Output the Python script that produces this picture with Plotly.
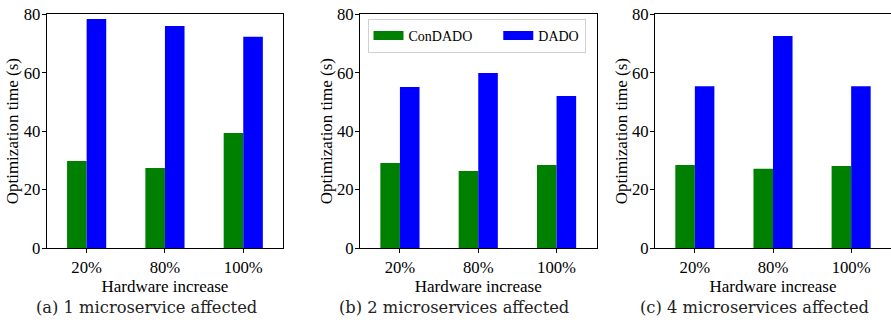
import plotly.graph_objects as go

categories = ["20%", "80%", "100%"]
series_names = ["ConDADO", "DADO"]
colors = ["#008000", "#0000ff"]

condado_a = [29.8, 27.4, 39.4]
dado_a = [78.4, 76.0, 72.3]
condado_b = [29.1, 26.4, 28.4]
dado_b = [55.1, 59.9, 52.0]
condado_c = [28.4, 27.1, 28.1]
dado_c = [55.4, 72.6, 55.4]

captions = ["(a) 1 microservice affected",
            "(b) 2 microservices affected",
            "(c) 4 microservices affected"]
y_ticks = [0, 20, 40, 60, 80]
x_title = "Hardware increase"
y_title = "Optimization time (s)"

panels = [(condado_a, dado_a), (condado_b, dado_b), (condado_c, dado_c)]

W, H = 891, 320
FONT = "Liberation Serif"

fig = go.Figure()
for i, (cd, dd) in enumerate(panels):
    ax = "" if i == 0 else str(i + 1)
    for name, vals, col in zip(series_names, (cd, dd), colors):
        fig.add_trace(go.Bar(x=categories, y=vals, name=name, marker_color=col,
                             marker_line_width=0, showlegend=False,
                             xaxis="x" + ax, yaxis="y" + ax))

# legend proxies (wide patch look); trailing no-break spaces set the entry spacing
legend_labels = ["ConDADO" + "\u00a0" * 6, "DADO"]
for label, col in zip(legend_labels, colors):
    fig.add_trace(go.Scatter(x=[None], y=[None], mode="lines", name=label,
                             line=dict(color=col, width=9),
                             xaxis="x2", yaxis="y2", showlegend=True))

x_domains = [(46.7 / W, 283.2 / W), (360.0 / W, 596.5 / W), (655.0 / W, 1.0)]
y_domain = (1 - 248.0 / H, 1 - 14.3 / H)

layout = dict(
    width=W, height=H,
    margin=dict(l=0, r=0, t=0, b=0, autoexpand=False),
    paper_bgcolor="white", plot_bgcolor="white",
    barmode="group", bargap=0.5, bargroupgap=0,
    font=dict(family=FONT, size=16.7, color="black"),
    showlegend=True,
    legend=dict(orientation="h", x=367.5 / W, y=1 - 19.0 / H,
                xanchor="left", yanchor="top",
                bordercolor="#d0d0d0", borderwidth=1, bgcolor="white",
                font=dict(family=FONT, size=14),
                tracegroupgap=0),
)
for i in range(3):
    ax = "" if i == 0 else str(i + 1)
    layout["xaxis" + ax] = dict(
        domain=list(x_domains[i]), anchor="y" + ax, automargin=False,
        type="category", range=[-0.51, 2.51],
        showline=True, linecolor="black", linewidth=1, mirror=True,
        ticks="outside", ticklen=4, tickcolor="black", tickwidth=1,
        showgrid=False, zeroline=False,
        tickfont=dict(family=FONT, size=16.7),
        title=dict(text=x_title, font=dict(family=FONT, size=17), standoff=0),
    )
    layout["yaxis" + ax] = dict(
        domain=list(y_domain), anchor="x" + ax, automargin=False,
        range=[0, 80], tickvals=y_ticks,
        showline=True, linecolor="black", linewidth=1,
        mirror=(i < 2),
        ticks="outside", ticklen=4, tickcolor="black", tickwidth=1,
        ticklabelstandoff=-2,
        showgrid=False, zeroline=False,
        tickfont=dict(family=FONT, size=16.7),
        title=dict(text=y_title, font=dict(family=FONT, size=17), standoff=0),
    )

cap_x = [146.5 / W, 453.8 / W, 754.0 / W]
annotations = []
for cx, text in zip(cap_x, captions):
    annotations.append(dict(text=text, x=cx, y=1 - 307.0 / H, xref="paper", yref="paper",
                            xanchor="center", yanchor="middle", showarrow=False,
                            font=dict(family="DejaVu Serif", size=16.3, color="#222222")))
layout["annotations"] = annotations

fig.update_layout(**layout)
fig.write_html("out.html")
